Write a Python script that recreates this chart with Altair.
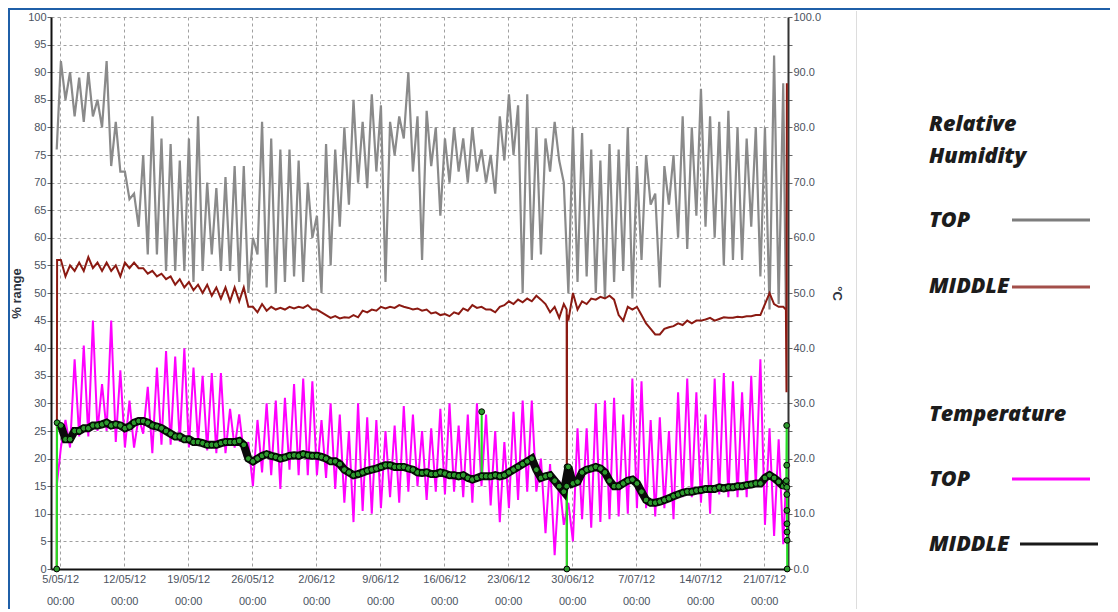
import altair as alt
import pandas as pd

# ---------------- data (12-hourly readings from 5/05/12 02:00 UTC) ----------------
START = "2012-05-05T02:00:00Z"
STEP_HOURS = 12

hum_top = [92,85, 90,82, 89,81, 90,82, 85,80, 92,73, 81,72, 72,67, 68,62, 75,57,
           82,57, 78,54, 77,54, 74,54, 78,52, 82,54, 70,57, 69,54, 71,54, 73,52,
           73,50, 60,57, 81,51, 78,50, 76,52, 76,53, 74,52, 70,60, 64,50, 77,55,
           76,62, 80,66, 85,70, 81,69, 86,72, 84,52, 81,75, 82,78, 90,72, 82,56,
           83,73, 80,64, 78,70, 80,72, 78,70, 80,72, 76,70, 75,68, 82,74, 86,75,
           84,50, 86,56, 80,57, 78,72, 81,74, 70,50, 80,52, 79,53, 76,50, 74,49,
           77,52, 76,54, 80,49, 73,56, 75,66, 68,51, 73,66, 75,60, 82,58, 80,64,
           87,62, 82,60, 81,55, 83,56, 80,56, 78,62, 80,53, 80,47, 93,48, 88]

hum_mid = [56,53, 55,54, 55.5,54, 56.5,54.5, 55.5,54, 55.5,54, 55,53, 55.5,54.5, 55.5,54.5, 54.5,53.5,
           54,53, 53.5,52.5, 53,51.5, 52.5,51, 52,50.5, 51.5,50, 51.5,49.5, 51,49, 51,48.5, 51,48.5,
           51,47.5, 47.5,46.5, 48,46.8, 47.5,47, 47.3,47, 47.5,47.2, 47.5,47.3, 47.8,47, 47,46.5, 46,45.5,
           45.8,45.4, 45.6,45.5, 46,45.6, 46.8,46.5, 47,46.8, 47.5,47.2, 47.5,47.3, 47.8,47.5, 47.3,47, 47.2,46.8,
           47,46.3, 46.5,46, 46.2,45.8, 46.5,46.2, 47.2,46.8, 47.8,47.3, 47.5,47, 47,46.5, 47.5,47.8, 48.5,48,
           48.8,48.3, 49,48.5, 49.5,48.8, 48,46.5, 47.5,45.5, 48,45, 50,47, 48.5,48, 49,48.8, 49.3,49,
           49.5,48.8, 46,45, 47.5,47, 47.5,46, 44.5,43.5, 42.5,42.5, 43.5,43.8, 44,44.5, 44.2,45, 44.5,45,
           45,45.2, 45.5,45, 45.3,45.6, 45.5,45.5, 45.7,45.6, 45.8,45.8, 46,46, 48,50, 48,47.5, 47.5]

temp_top = [22,27, 22,38, 24,40.5, 24,45, 25,33.5, 25,45, 23,36, 22,30.5, 22,27.5, 24.5,33,
            21,36.5, 22.5,39.5, 22.5,38.5, 23,40, 22,36.5, 23,35, 21.5,35.5, 21,35.5, 21,29, 22,28,
            21,23, 15,27, 17.5,30, 17,30.5, 14.5,31, 18,33.5, 17,34.5, 17,34, 17,27, 16.5,30,
            14.5,28, 12,25, 8.5,30, 10.5,27.5, 10,27, 11,25, 13,26, 12,29.5, 14,28, 15,25,
            12.5,25.5, 14,29, 13.5,30, 14,26, 13,28, 12,30, 15,28, 11.5,25, 8.5,23, 11,28.5,
            12.5,30.5, 14,30.5, 14,20, 6.5,19, 2.5,16, 8,12, 5,25.5, 9,25.5, 7.5,30, 8.5,30.5,
            9,31, 9.5,28, 10,34.5, 11,34, 11,27, 9.5,27.5, 11,25, 9,32, 13,34.5, 13,32,
            12,28, 10,34.5, 13.5,35.5, 13,34, 13,32, 13,35, 15,38, 8,25.5, 6,23.5, 4.5]

temp_mid = [26,23.5, 23.5,25, 25,25.5, 25.5,26, 26,26.2, 26.5,26, 26.2,26, 25.5,25.8, 26.5,26.8, 26.8,26.5,
            26,25.8, 25.5,25, 24.5,24, 24,23.5, 23.5,23, 23,22.8, 22.5,22.5, 22.5,22.8, 23,23, 23,23.2,
            22.5,20, 19.5,20, 20.5,20.8, 20.5,20.3, 20,20.2, 20.5,20.6, 20.5,20.8, 20.6,20.5, 20.5,20.3, 20,19.5,
            19.5,19, 18,17.5, 17,17.2, 17.5,17.8, 18,18.2, 18.5,18.8, 18.8,18.5, 18.5,18.5, 18.2,18, 17.5,17.4,
            17.5,17.2, 17.2,17.5, 17.3,17, 17,16.8, 17,16.5, 16.2,16.5, 16.8,16.8, 16.8,17, 16.8,17, 17.5,18,
            18.5,19, 19.5,20, 18,16.5, 16.8,17, 16,15, 14,18.5, 15.5,15.8, 17.5,18, 18.2,18.5, 18.2,17.5,
            16,15, 15,15.5, 16,16.2, 15.5,14, 12.5,12, 12,12.2, 12.5,12.8, 13.2,13.5, 13.8,14, 14,14.2,
            14.3,14.5, 14.5,14.5, 14.8,14.6, 14.8,14.8, 15,15, 15.2,15.3, 15.5,15.5, 16.5,17, 16.5,15.8, 15]

# irregular readings (start-up, sensor drop-outs, end of logging)
hum_top_extra = [("2012-05-04T15:00", 76), ("2012-07-23T09:00", 47)]
hum_mid_extra = [("2012-05-04T15:00", 0), ("2012-05-04T16:00", 56),
                 ("2012-06-29T09:30", 47), ("2012-06-29T10:00", 0), ("2012-06-29T10:30", 46),
                 ("2012-07-23T09:00", 47), ("2012-07-23T10:30", 32), ("2012-07-23T11:30", 88)]
temp_top_extra = [("2012-05-04T15:00", 15), ("2012-07-23T09:00", 15.5)]
temp_mid_extra = [("2012-05-04T15:00", 0), ("2012-05-04T16:00", 26.5),
                  ("2012-06-20T02:30", 28.5), ("2012-06-20T03:00", 16.8),
                  ("2012-06-29T09:30", 15), ("2012-06-29T10:00", 0), ("2012-06-29T10:30", 18.5),
                  ("2012-07-23T09:00", 15.5), ("2012-07-23T10:00", 16), ("2012-07-23T11:00", 26),
                  ("2012-07-23T11:10", 18.8), ("2012-07-23T11:20", 14.8), ("2012-07-23T11:30", 13.5),
                  ("2012-07-23T11:40", 10.6), ("2012-07-23T11:50", 8.2), ("2012-07-23T12:00", 6.7),
                  ("2012-07-23T12:10", 5.2), ("2012-07-23T12:20", 0)]

week_ticks = ["2012-05-05", "2012-05-12", "2012-05-19", "2012-05-26", "2012-06-02", "2012-06-09",
              "2012-06-16", "2012-06-23", "2012-06-30", "2012-07-07", "2012-07-14", "2012-07-21"]
x_domain = ["2012-05-04T00:00", "2012-07-23T14:30"]


def ms(s):
    ts = pd.Timestamp(s)
    if ts.tzinfo is None:
        ts = ts.tz_localize("UTC")
    return int(ts.value // 10**6)


def build(values, extra):
    t0 = ms(START)
    rows = [(t0 + i * STEP_HOURS * 3600 * 1000, v) for i, v in enumerate(values)]
    rows += [(ms(s), v) for s, v in extra]
    rows.sort(key=lambda r: r[0])
    return pd.DataFrame({"t": [r[0] for r in rows], "v": [r[1] for r in rows]})


df_ht = build(hum_top, hum_top_extra)
df_hm = build(hum_mid, hum_mid_extra)
df_tt = build(temp_top, temp_top_extra)
df_tm = build(temp_mid, temp_mid_extra)
df_tm_regular = build(temp_mid, [])

# ---------------- encodings ----------------
LABEL_FONT = "Liberation Sans"
LABEL_COLOR = "#4b5260"
GRID_COLOR = "#a0a0a0"

x_axis = alt.Axis(
    values=[ms(d) for d in week_ticks],
    labelExpr="[utcFormat(datum.value, '%-d/%m/%y'), utcFormat(datum.value, '%H:%M')]",
    labelFont=LABEL_FONT, labelFontSize=11, labelColor=LABEL_COLOR, labelLineHeight=22,
    labelFlush=False, labelOverlap=False, labelPadding=4,
    grid=True, gridColor=GRID_COLOR, gridDash=[3, 3], gridWidth=1,
    ticks=False, domainColor="#111111", domainWidth=2, title=None,
)
x_enc = alt.X("t:T", scale=alt.Scale(type="utc", domain=[ms(d) for d in x_domain]), axis=x_axis)

left_axis = alt.Axis(
    values=list(range(0, 101, 5)), title="% range", titleFont=LABEL_FONT, titleFontSize=13,
    titleFontWeight="bold", titleColor="#2e3440", titlePadding=4,
    labelFont=LABEL_FONT, labelFontSize=11, labelColor=LABEL_COLOR, labelPadding=1, labelOverlap=False,
    grid=True, gridColor=GRID_COLOR, gridDash=[3, 3], gridWidth=1,
    tickSize=4, tickColor="#666666", domainColor="#111111", domainWidth=2,
)
right_axis = alt.Axis(
    orient="right", values=list(range(0, 101, 5)),
    labelExpr="datum.value % 10 == 0 ? format(datum.value, '.1f') : ''",
    title="°C", titleFont=LABEL_FONT, titleFontSize=13, titleFontWeight="bold",
    titleColor="#2e3440", titlePadding=9,
    labelFont=LABEL_FONT, labelFontSize=11, labelColor=LABEL_COLOR, labelPadding=1, labelOverlap=False,
    grid=False, tickSize=4, tickColor="#666666", domainColor="#333333", domainWidth=2,
)
yL = alt.Y("v:Q", scale=alt.Scale(domain=[0, 100], nice=False, zero=False), axis=left_axis)
yR = alt.Y("v:Q", scale=alt.Scale(domain=[0, 100], nice=False, zero=False), axis=right_axis)

gray_line = alt.Chart(df_ht).mark_line(color="#8a8a8a", strokeWidth=2.2).encode(x=x_enc, y=yL)
red_line = alt.Chart(df_hm).mark_line(color="#8b1a12", strokeWidth=2).encode(x=x_enc, y=yL)
mag_line = alt.Chart(df_tt).mark_line(color="#ff00ff", strokeWidth=2).encode(x=x_enc, y=yR)
green_line = alt.Chart(df_tm).mark_line(color="#22e022", strokeWidth=2).encode(x=x_enc, y=yR)
black_band = alt.Chart(df_tm_regular).mark_line(color="#0a0a0a", strokeWidth=8).encode(x=x_enc, y=yR)
green_pts = alt.Chart(df_tm).mark_point(
    shape="circle", size=34, filled=True, fill="#2e9a2e", stroke="#000000",
    strokeWidth=1, opacity=1, fillOpacity=1,
).encode(x=x_enc, y=yR)

hum = alt.layer(gray_line, red_line)
temp = alt.layer(mag_line, green_line, black_band, green_pts)

# ---------------- legend / frame annotations ----------------
ann = alt.Data(values=[{"a": 0}])


def txt(s, x, y):
    return alt.Chart(ann).mark_text(
        align="left", baseline="middle", font="Open Sans", fontSize=21.5,
        fontStyle="italic", fontWeight=800, color="#1c1c1c",
    ).encode(x=alt.value(x), y=alt.value(y), text=alt.value(s))


def hseg(x1, x2, y, color, w=3):
    return alt.Chart(ann).mark_rule(color=color, strokeWidth=w).encode(
        x=alt.value(x1), x2=alt.value(x2), y=alt.value(y))


def vseg(x, y1, y2, color, w=1):
    return alt.Chart(ann).mark_rule(color=color, strokeWidth=w).encode(
        x=alt.value(x), y=alt.value(y1), y2=alt.value(y2))


anns = [
    hseg(-43, 1059, -8, "#1f5fa8", 2),
    vseg(-42, -9, 596, "#1f5fa8", 2),
    vseg(805.5, -6, 592, "#dddddd", 1),
    txt("Relative", 878, 108),
    txt("Humidity", 878, 140),
    txt("TOP", 878, 204), hseg(961, 1039, 203, "#7d7d7d"),
    txt("MIDDLE", 878, 270), hseg(961, 1039, 270, "#a34f4a"),
    txt("Temperature", 878, 398),
    txt("TOP", 878, 463), hseg(961, 1039, 462, "#ff00ff"),
    txt("MIDDLE", 878, 528), hseg(969, 1047, 527, "#1a1a1a"),
]

chart = alt.layer(hum, temp, *anns).resolve_scale(y="independent").properties(
    width=737, height=552,
    autosize=alt.AutoSizeParams(type="none"),
    padding={"left": 43, "top": 9, "right": 322, "bottom": 40},
    background="white",
).configure_view(stroke=None)

chart.save("out.html", embed_options={"renderer": "svg", "actions": False})
